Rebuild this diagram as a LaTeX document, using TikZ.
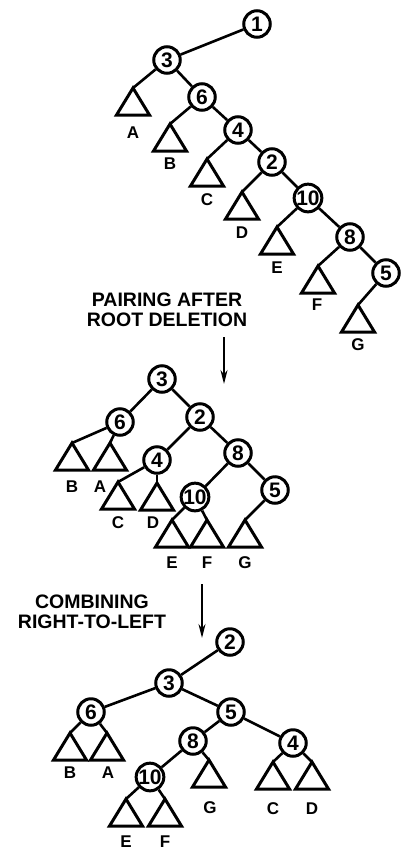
\documentclass[tikz,border=0pt]{standalone}
\usepackage{fontspec}
\setmainfont{Liberation Sans}
\usetikzlibrary{arrows.meta}
\tikzset{
  x=1pt,y=-1pt,
  nd/.style={circle,draw,line width=3pt,minimum size=26.5pt,inner sep=0pt,
    font=\fontsize{21}{21}\selectfont\bfseries},
  ed/.style={line width=2.6pt},
  tri/.style={line width=3pt,line join=miter},
  lab/.style={font=\fontsize{17}{17}\selectfont\bfseries,inner sep=0pt},
  captext/.style={font=\fontsize{19.5}{20}\selectfont\bfseries,align=center,inner sep=0pt},
  arr/.style={line width=1.8pt,-{Stealth[length=14pt,width=7pt]}},
  sub/.pic={\draw[tri] (0,0) -- (-16.5,27) -- (16.5,27) -- cycle;}
}
\begin{document}
\begin{tikzpicture}
\path[use as bounding box] (0,0) rectangle (401,852);

% ---------- Tree 1 ----------
\node[nd] (a1) at (257,24) {1};
\node[nd] (a3) at (167,60) {3};
\node[nd] (a6) at (202,97) {6};
\node[nd] (a4) at (238,130) {4};
\node[nd] (a2) at (272,162) {2};
\node[nd] (a10) at (308,198) {10};
\node[nd] (a8) at (350,237) {8};
\node[nd] (a5) at (386,273) {5};
\coordinate (aA) at (133,88);
\coordinate (aB) at (170,124);
\coordinate (aC) at (207,159);
\coordinate (aD) at (242,192);
\coordinate (aE) at (277,227);
\coordinate (aF) at (318,266);
\coordinate (aG) at (358,305);
\foreach \t in {aA,aB,aC,aD,aE,aF,aG} {\pic at (\t) {sub};}
\node[lab] (laA) at (133,133) {A};
\node[lab] (laB) at (170,164) {B};
\node[lab] (laC) at (207,200) {C};
\node[lab] (laD) at (242,233) {D};
\node[lab] (laE) at (277,268) {E};
\node[lab] (laF) at (317,305) {F};
\node[lab] (laG) at (358,345) {G};
\draw[ed] (a1) -- (a3);
\draw[ed] (a3) -- (a6);
\draw[ed] (a6) -- (a4);
\draw[ed] (a4) -- (a2);
\draw[ed] (a2) -- (a10);
\draw[ed] (a10) -- (a8);
\draw[ed] (a8) -- (a5);
\draw[ed] (a3) -- (aA);
\draw[ed] (a6) -- (aB);
\draw[ed] (a4) -- (aC);
\draw[ed] (a2) -- (aD);
\draw[ed] (a10) -- (aE);
\draw[ed] (a8) -- (aF);
\draw[ed] (a5) -- (aG);

% ---------- caption 1 and arrow ----------
\node[captext] (c1) at (167,310) {PAIRING AFTER\\ROOT DELETION};
\coordinate (r1s) at (224,337);
\coordinate (r1e) at (224,384);
\draw[arr] (r1s) -- (r1e);

% ---------- Tree 2 ----------
\node[nd] (b3) at (162,379) {3};
\node[nd] (b6) at (120,422) {6};
\node[nd] (b2) at (200,417) {2};
\node[nd] (b4) at (157,460) {4};
\node[nd] (b8) at (238,453) {8};
\node[nd] (b10) at (195,497) {10};
\node[nd] (b5) at (275,490) {5};
\coordinate (bB) at (72,443);
\coordinate (bA) at (110,443);
\coordinate (bC) at (118,482);
\coordinate (bD) at (157,483);
\coordinate (bE) at (172,520);
\coordinate (bF) at (207,520);
\coordinate (bG) at (245,520);
\foreach \t in {bB,bA,bC,bD,bE,bF,bG} {\pic at (\t) {sub};}
\node[lab] (lbB) at (72,487) {B};
\node[lab] (lbA) at (100,487) {A};
\node[lab] (lbC) at (118,523) {C};
\node[lab] (lbD) at (153,523) {D};
\node[lab] (lbE) at (172,563) {E};
\node[lab] (lbF) at (207,563) {F};
\node[lab] (lbG) at (245,563) {G};
\draw[ed] (b3) -- (b6);
\draw[ed] (b3) -- (b2);
\draw[ed] (b2) -- (b4);
\draw[ed] (b2) -- (b8);
\draw[ed] (b8) -- (b10);
\draw[ed] (b8) -- (b5);
\draw[ed] (b6) -- (bB);
\draw[ed] (b6) -- (bA);
\draw[ed] (b4) -- (bC);
\draw[ed] (b4) -- (bD);
\draw[ed] (b10) -- (bE);
\draw[ed] (b10) -- (bF);
\draw[ed] (b5) -- (bG);

% ---------- caption 2 and arrow ----------
\node[captext] (c2) at (92,612) {COMBINING\\RIGHT-TO-LEFT};
\coordinate (r2s) at (202,584);
\coordinate (r2e) at (202,638);
\draw[arr] (r2s) -- (r2e);

% ---------- Tree 3 ----------
\node[nd] (k2) at (230,642) {2};
\node[nd] (k3) at (169,683) {3};
\node[nd] (k6) at (91,712) {6};
\node[nd] (k5) at (231,712) {5};
\node[nd] (k8) at (193,741) {8};
\node[nd] (k4) at (293,743) {4};
\node[nd] (k10) at (150,777) {10};
\coordinate (kB) at (70,733);
\coordinate (kA) at (107,733);
\coordinate (kG) at (209,760);
\coordinate (kC) at (273,762);
\coordinate (kD) at (312,762);
\coordinate (kE) at (126,799);
\coordinate (kF) at (165,799);
\foreach \t in {kB,kA,kG,kC,kD,kE,kF} {\pic at (\t) {sub};}
\node[lab] (lkB) at (70,773) {B};
\node[lab] (lkA) at (108,773) {A};
\node[lab] (lkG) at (210,808) {G};
\node[lab] (lkC) at (273,809) {C};
\node[lab] (lkD) at (312,809) {D};
\node[lab] (lkE) at (126,842) {E};
\node[lab] (lkF) at (165,842) {F};
\draw[ed] (k2) -- (k3);
\draw[ed] (k3) -- (k6);
\draw[ed] (k3) -- (k5);
\draw[ed] (k5) -- (k8);
\draw[ed] (k5) -- (k4);
\draw[ed] (k8) -- (k10);
\draw[ed] (k6) -- (kB);
\draw[ed] (k6) -- (kA);
\draw[ed] (k8) -- (kG);
\draw[ed] (k4) -- (kC);
\draw[ed] (k4) -- (kD);
\draw[ed] (k10) -- (kE);
\draw[ed] (k10) -- (kF);
\end{tikzpicture}
\end{document}
